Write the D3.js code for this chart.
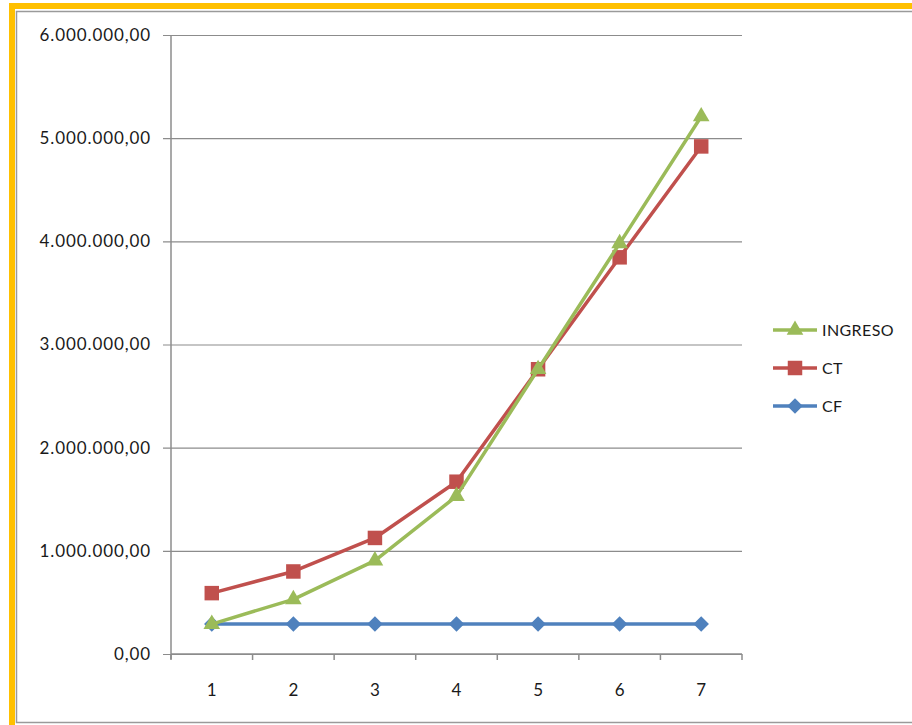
<!DOCTYPE html>
<html>
<head>
<meta charset="utf-8">
<script src="https://cdn.jsdelivr.net/npm/d3@7"></script>
<style>
  html, body { margin: 0; padding: 0; background: #fff; }
  svg { display: block; }
  text { font-family: Lato, "Open Sans", sans-serif; fill: #1a1a1a; }
</style>
</head>
<body>
<svg id="chart" width="912" height="725"></svg>
<script>
// Periods on the x axis
const periods = [1, 2, 3, 4, 5, 6, 7];

// Series values
const ingreso = [290000, 530000, 905000, 1530000, 2760000, 3980000, 5210000];
const ct      = [590000, 800000, 1125000, 1670000, 2760000, 3845000, 4920000];
const cf      = [290000, 290000, 290000, 290000, 290000, 290000, 290000];

// Y axis ticks
const yTicks = [0, 1000000, 2000000, 3000000, 4000000, 5000000, 6000000];

const seriesNames = ["INGRESO", "CT", "CF"];
const seriesColors = ["#9BBB59", "#C0504D", "#4F81BD"];

// Marker shapes: triangle, square, diamond (square turned 45°)
const markerPath = [
  d3.symbol().type(d3.symbolTriangle).size(120)(),
  d3.symbol().type(d3.symbolSquare).size(210)(),
  d3.symbol().type(d3.symbolSquare).size(120)()
];
const markerRotate = [0, 0, 45];

const svg = d3.select("#chart");

// Frame: orange accent on top/left and thin gray outline
svg.append("rect").attr("x", 9).attr("y", 3).attr("width", 6).attr("height", 722).attr("fill", "#FFC000");
svg.append("rect").attr("x", 9).attr("y", 3).attr("width", 903).attr("height", 6).attr("fill", "#FFC000");
svg.append("rect").attr("x", 16.5).attr("y", 11.5).attr("width", 940).attr("height", 711)
  .attr("fill", "none").attr("stroke", "#9a9a9a").attr("stroke-width", 1.5);

const plot = { left: 171, right: 742, top: 35, bottom: 654 };

const x = d3.scaleBand().domain(periods).range([plot.left, plot.right]);
const y = d3.scaleLinear().domain([0, 6000000]).range([plot.bottom, plot.top]);

const fmt = d3.formatLocale({ decimal: ",", thousands: ".", grouping: [3], currency: ["", ""] }).format(",.2f");

// Gridlines + y axis
const yAxis = d3.axisLeft(y).tickValues(yTicks).tickFormat(fmt).tickSize(-(plot.right - plot.left + 8)).tickPadding(12);
const gy = svg.append("g").attr("transform", `translate(${plot.left - 8},0)`).call(yAxis);
gy.select(".domain").remove();
gy.selectAll(".tick line").attr("stroke", "#8c8c8c").attr("stroke-width", 1.2);
gy.selectAll(".tick text").attr("font-size", 17).attr("letter-spacing", "0.9px").attr("fill", "#1a1a1a");

// Vertical axis line
svg.append("line").attr("x1", plot.left).attr("x2", plot.left).attr("y1", plot.top).attr("y2", plot.bottom + 5)
  .attr("stroke", "#8c8c8c").attr("stroke-width", 1.5);

// X axis with ticks at category boundaries
const bounds = periods.map(p => x(p)).concat([x(periods[periods.length - 1]) + x.bandwidth()]);
svg.append("line").attr("x1", plot.left).attr("x2", plot.right).attr("y1", plot.bottom).attr("y2", plot.bottom)
  .attr("stroke", "#8c8c8c").attr("stroke-width", 1.5);
svg.append("g").selectAll("line").data(bounds).join("line")
  .attr("x1", d => d).attr("x2", d => d).attr("y1", plot.bottom).attr("y2", plot.bottom + 6)
  .attr("stroke", "#8c8c8c").attr("stroke-width", 1.5);
svg.append("g").selectAll("text").data(periods).join("text")
  .attr("x", d => x(d) + x.bandwidth() / 2).attr("y", 690).attr("dy", "0.35em")
  .attr("text-anchor", "middle").attr("font-size", 17).text(d => d);

// Series lines and markers (CF first so INGRESO sits on top)
const allSeries = [ingreso, ct, cf];
const cx = p => x(p) + x.bandwidth() / 2;
const line = d3.line().x((d, i) => cx(periods[i])).y(d => y(d));

[2, 1, 0].forEach(s => {
  const g = svg.append("g");
  g.append("path").datum(allSeries[s]).attr("d", line)
    .attr("fill", "none").attr("stroke", seriesColors[s]).attr("stroke-width", 3.5).attr("stroke-linejoin", "round");
  g.selectAll("path.m").data(allSeries[s]).join("path").attr("class", "m")
    .attr("transform", (d, i) => `translate(${cx(periods[i])},${y(d)}) rotate(${markerRotate[s]})`)
    .attr("d", markerPath[s])
    .attr("fill", seriesColors[s]);
});

// Legend
const legendY = [330, 368, 406];
const lg = svg.append("g");
seriesNames.forEach((name, i) => {
  lg.append("line").attr("x1", 773).attr("x2", 817).attr("y1", legendY[i]).attr("y2", legendY[i])
    .attr("stroke", seriesColors[i]).attr("stroke-width", 3.5);
  lg.append("path").attr("transform", `translate(795,${legendY[i]}) rotate(${markerRotate[i]})`)
    .attr("d", markerPath[i]).attr("fill", seriesColors[i]);
  lg.append("text").attr("x", 822).attr("y", legendY[i]).attr("dy", "0.35em")
    .attr("font-size", 16).attr("letter-spacing", "0.4px").text(name);
});
</script>
</body>
</html>
